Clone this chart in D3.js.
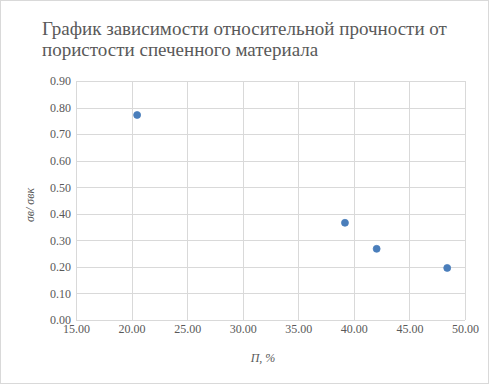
<!DOCTYPE html>
<html><head><meta charset="utf-8">
<script src="https://d3js.org/d3.v7.min.js"></script>
<style>html,body{margin:0;padding:0;background:#fff;}</style>
</head><body>
<script>
const porosity = [20.5, 39.2, 42.05, 48.4];
const relStrength = [0.772, 0.366, 0.268, 0.196];
const xTicks = [15, 20, 25, 30, 35, 40, 45, 50];
const yTicks = [0, 0.1, 0.2, 0.3, 0.4, 0.5, 0.6, 0.7, 0.8, 0.9];
const titleLines = ["График зависимости относительной прочности от", "пористости спеченного материала"];

const W = 489, H = 384;
const svg = d3.select("body").append("svg").attr("width", W).attr("height", H);
svg.append("rect").attr("x", 0.5).attr("y", 0.5).attr("width", W - 1).attr("height", H - 1)
  .attr("fill", "#fff").attr("stroke", "#d9d9d9");

const x = d3.scaleLinear().domain([15, 50]).range([76, 465]);
const y = d3.scaleLinear().domain([0, 0.9]).range([320, 81]);
const font = "'Liberation Serif', 'DejaVu Serif', serif";

svg.append("text").attr("x", 42).attr("y", 35).attr("font-family", font).attr("font-size", 19)
  .attr("fill", "#595959")
  .selectAll("tspan").data(titleLines).join("tspan")
  .attr("x", 42).attr("dy", (d, i) => i ? 21 : 0).text(d => d);

const g = svg.append("g");
g.selectAll("line.v").data(xTicks).join("line")
  .attr("x1", d => Math.round(x(d)) + 0.5).attr("x2", d => Math.round(x(d)) + 0.5)
  .attr("y1", y(0.9)).attr("y2", y(0)).attr("stroke", "#d9d9d9");
g.selectAll("line.h").data(yTicks).join("line")
  .attr("y1", d => Math.round(y(d)) + 0.5).attr("y2", d => Math.round(y(d)) + 0.5)
  .attr("x1", x(15)).attr("x2", x(50)).attr("stroke", "#d9d9d9");

const xAxis = svg.append("g").attr("transform", `translate(0,${y(0)})`)
  .call(d3.axisBottom(x).tickValues(xTicks).tickFormat(d3.format(".2f")).tickSize(0).tickPadding(4));
xAxis.select(".domain").remove();
xAxis.selectAll("text").attr("font-family", font).attr("font-size", 12).attr("fill", "#595959");

const yAxis = svg.append("g").attr("transform", `translate(${x(15)},0)`)
  .call(d3.axisLeft(y).tickValues(yTicks).tickFormat(d3.format(".2f")).tickSize(0).tickPadding(5));
yAxis.select(".domain").remove();
yAxis.selectAll("text").attr("font-family", font).attr("font-size", 12).attr("fill", "#595959");

svg.append("text").attr("x", 263).attr("y", 362).attr("text-anchor", "middle")
  .attr("font-family", font).attr("font-style", "italic").attr("font-size", 12).attr("fill", "#595959")
  .text("П, %");
svg.append("text").attr("transform", `translate(34,205) rotate(-90)`)
  .attr("text-anchor", "middle")
  .attr("font-family", font).attr("font-style", "italic").attr("font-size", 12).attr("fill", "#595959")
  .text("σв/ σвк");

svg.append("g").selectAll("circle").data(porosity).join("circle")
  .attr("cx", d => x(d)).attr("cy", (d, i) => y(relStrength[i])).attr("r", 3.5)
  .attr("fill", "#4a7ebb").attr("stroke", "#4a7ebb").attr("stroke-width", 0.75);
</script>
</body></html>
